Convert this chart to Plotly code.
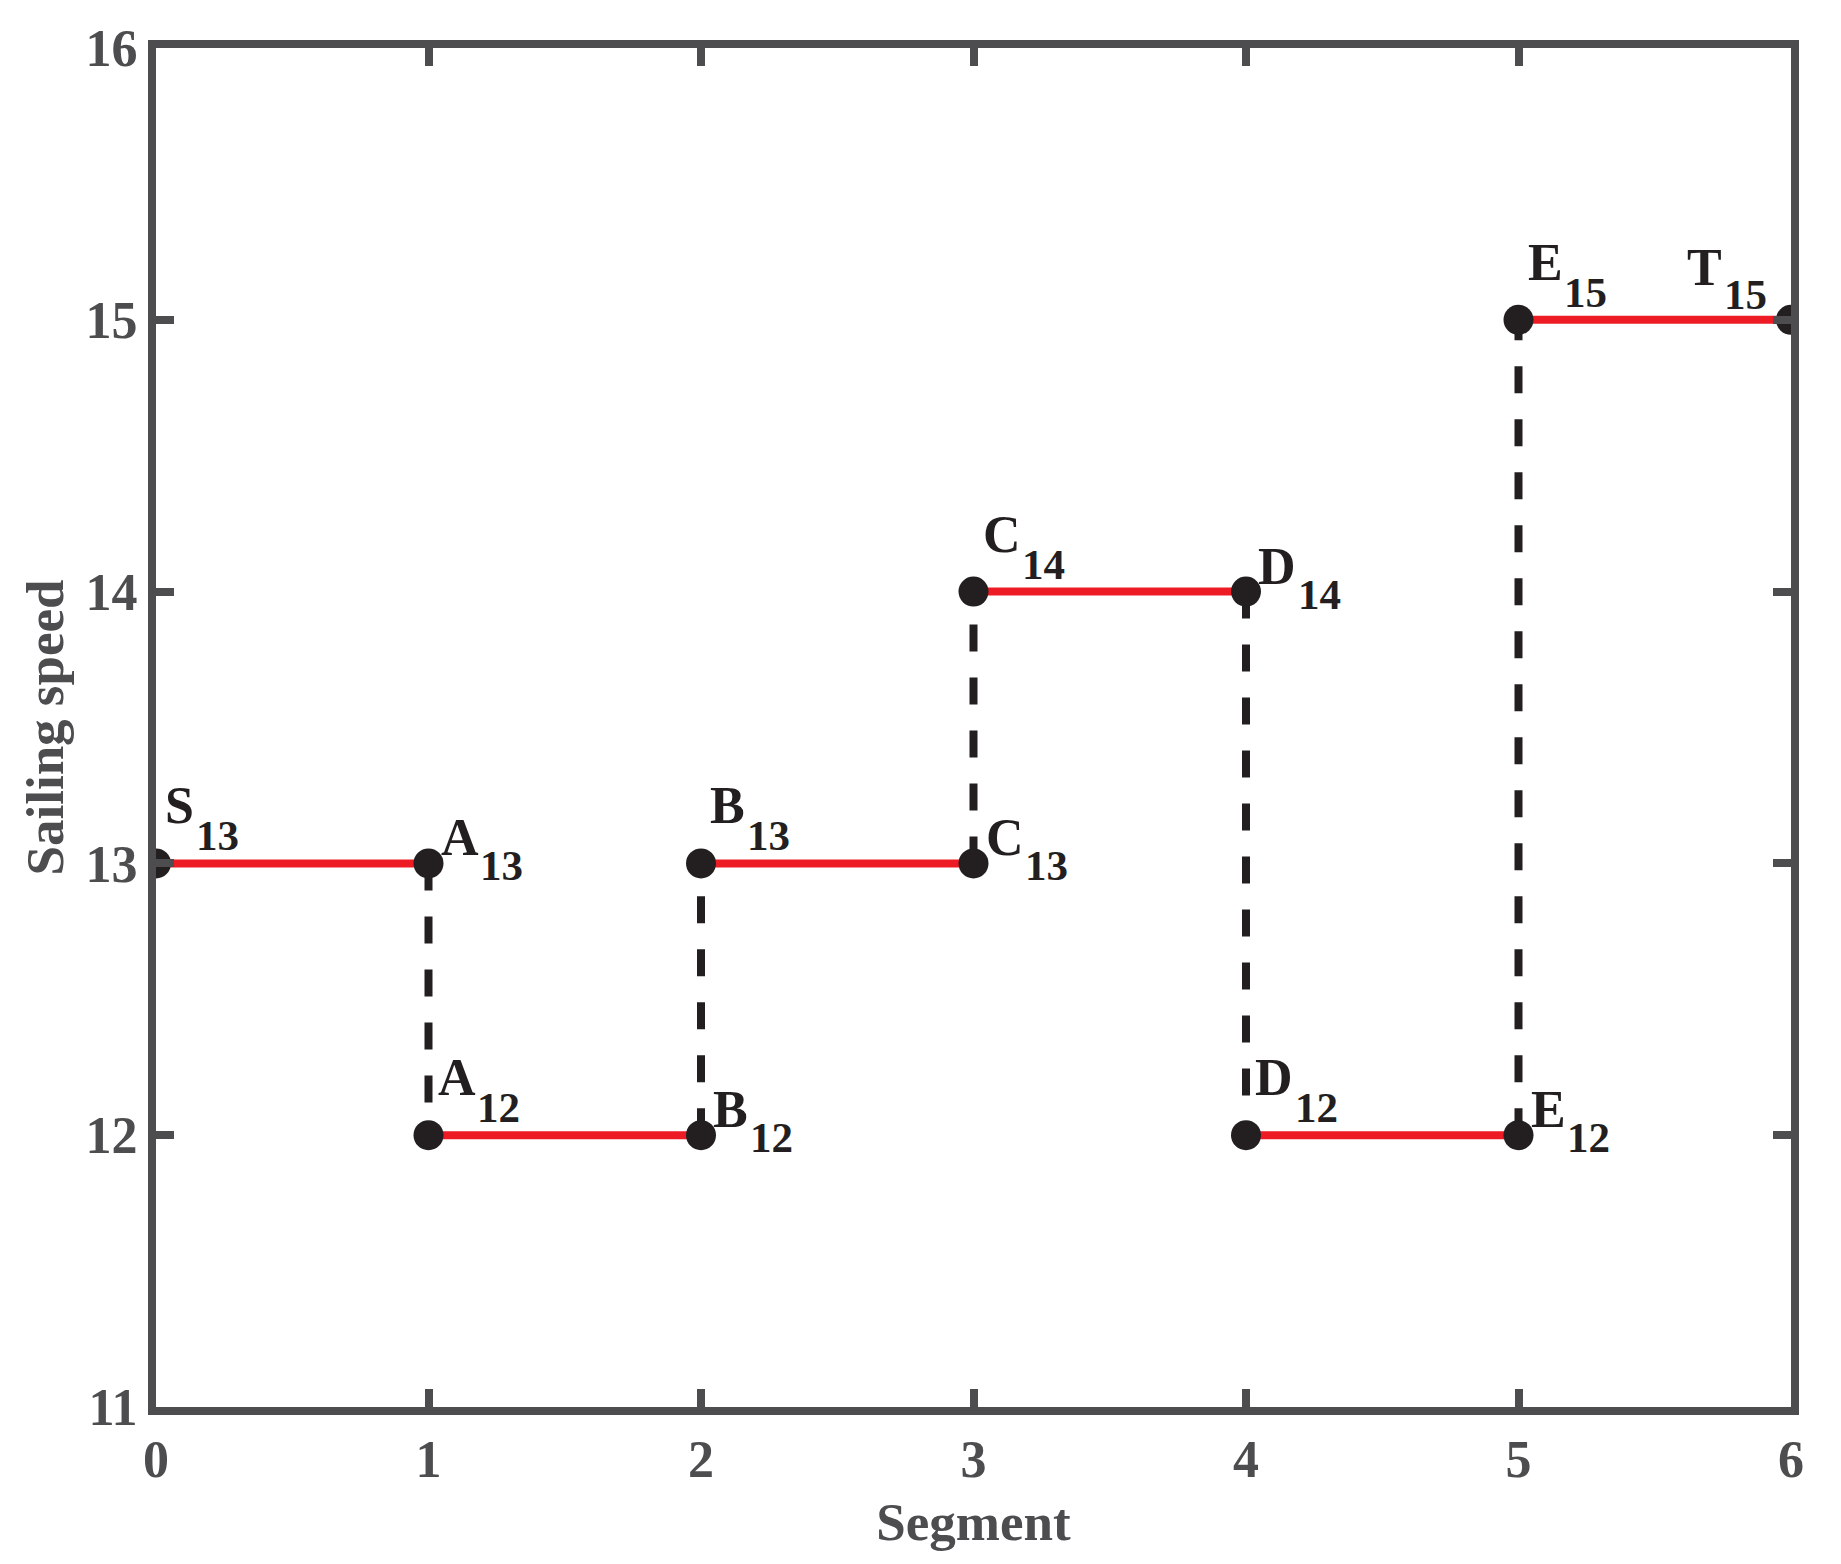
import plotly.graph_objects as go

# segment index and chosen sailing speed on each segment
seg_start = [0, 1, 2, 3, 4, 5]
seg_speed = [13, 12, 13, 14, 12, 15]
# node letters at segment boundaries (S ... T)
nodes = ['S', 'A', 'B', 'C', 'D', 'E', 'T']

x_ticks = [0, 1, 2, 3, 4, 5, 6]
y_ticks = [11, 12, 13, 14, 15, 16]

AXIS = '#4D4D4F'
RED = '#ED1C24'
BLACK = '#231F20'
FONT = 'Liberation Serif'
LETTER_SIZE = 52
SUB_SIZE = 43
# approx. advance widths of bold serif capitals (em)
LETTER_EM = {'S': 0.556, 'A': 0.722, 'B': 0.667, 'C': 0.722,
             'D': 0.722, 'E': 0.667, 'T': 0.667}


def baseline_shift(size, baseline):
    # yshift for a middle-anchored annotation whose baseline should sit
    # `baseline` px below the data point
    return 0.3375 * size - baseline


def add_label(fig, x, y, letter, sub, where):
    w = LETTER_EM[letter] * LETTER_SIZE
    if where == 'above':
        lx, lb, sb = 8, -40, -13
    elif where == 'right':
        lx, lb, sb = 11, -8, 17
    else:  # above-left (end node)
        lx, lb, sb = None, -35, -11
    font_l = dict(family=FONT, size=LETTER_SIZE, color=BLACK, weight='bold')
    font_s = dict(family=FONT, size=SUB_SIZE, color=BLACK, weight='bold')
    if lx is None:
        sub_w = len(sub) * 0.5 * SUB_SIZE
        fig.add_annotation(x=x, y=y, text=sub, showarrow=False, font=font_s,
                           xanchor='right', yanchor='middle', borderpad=0,
                           xshift=-23, yshift=baseline_shift(SUB_SIZE, sb))
        fig.add_annotation(x=x, y=y, text=letter, showarrow=False, font=font_l,
                           xanchor='right', yanchor='middle', borderpad=0,
                           xshift=-23 - sub_w - 2, yshift=baseline_shift(LETTER_SIZE, lb))
    else:
        fig.add_annotation(x=x, y=y, text=letter, showarrow=False, font=font_l,
                           xanchor='left', yanchor='middle', borderpad=0,
                           xshift=lx, yshift=baseline_shift(LETTER_SIZE, lb))
        fig.add_annotation(x=x, y=y, text=sub, showarrow=False, font=font_s,
                           xanchor='left', yanchor='middle', borderpad=0,
                           xshift=lx + w + 2, yshift=baseline_shift(SUB_SIZE, sb))


fig = go.Figure()

# dashed vertical transitions between consecutive speeds
for k in range(1, len(seg_start)):
    fig.add_trace(go.Scatter(
        x=[seg_start[k], seg_start[k]],
        y=[seg_speed[k - 1], seg_speed[k]],
        mode='lines',
        line=dict(color=BLACK, width=8, dash='27px,26px'),
        hoverinfo='skip', showlegend=False
    ))

# red horizontal segments with black end markers
for x0, v in zip(seg_start, seg_speed):
    fig.add_trace(go.Scatter(
        x=[x0, x0 + 1], y=[v, v],
        mode='lines+markers',
        line=dict(color=RED, width=8),
        marker=dict(color=BLACK, size=30, line=dict(width=0)),
        showlegend=False
    ))

# node labels: start of segment above, end of segment to the right
for k, (x0, v) in enumerate(zip(seg_start, seg_speed)):
    add_label(fig, x0, v, nodes[k], str(v), 'above')
    last = k == len(seg_start) - 1
    add_label(fig, x0 + 1, v, nodes[k + 1], str(v), 'left' if last else 'right')

axis_style = dict(
    showline=True, linewidth=8, linecolor=AXIS, mirror='ticks',
    ticks='inside', ticklen=18, tickwidth=8, tickcolor=AXIS,
    showgrid=False, zeroline=False,
    tickfont=dict(family=FONT, size=52, color=AXIS, weight='bold'),
)

fig.update_xaxes(range=[0, 6], tickvals=x_ticks, **axis_style,
                 title=dict(text='Segment', standoff=18,
                            font=dict(family=FONT, size=53, color=AXIS, weight='bold')))
fig.update_yaxes(range=[11, 16], tickvals=y_ticks, **axis_style,
                 title=dict(text='Sailing speed', standoff=8,
                            font=dict(family=FONT, size=53, color=AXIS, weight='bold')))

fig.update_layout(
    width=1825, height=1548,
    margin=dict(l=148, r=42, t=38, b=149),
    plot_bgcolor='white', paper_bgcolor='white',
)

fig.write_html("out.html")
